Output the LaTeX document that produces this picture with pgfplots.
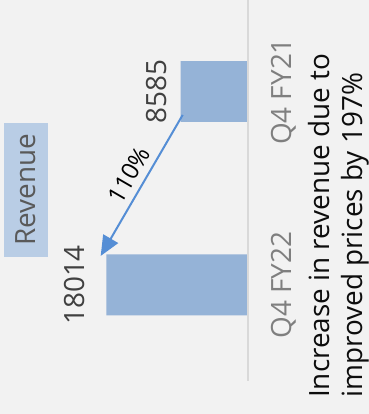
\documentclass[border=0pt]{standalone}
\usepackage{pgfplots}
\pgfplotsset{compat=1.18}
\usepackage{fontspec}
\setmainfont{Open Sans}
\usetikzlibrary{arrows.meta}
\definecolor{bg}{HTML}{F2F2F2}
\definecolor{barblue}{HTML}{95B3D7}
\definecolor{arrowblue}{HTML}{558ED5}
\definecolor{linegray}{HTML}{D9D9D9}
\definecolor{revbox}{HTML}{B9CDE5}
\definecolor{catgray}{HTML}{7F7F7F}
\definecolor{valgray}{HTML}{404040}
\definecolor{revtext}{HTML}{595959}
\begin{document}
\begin{tikzpicture}
\useasboundingbox[fill=bg] (0,0) rectangle (369bp,414bp);
\begin{axis}[
  at={(0,0)}, anchor=south west,
  scale only axis, width=248bp, height=414bp,
  xmin=0, xmax=31550, x dir=reverse,
  ymin=-0.667, ymax=1.473,
  axis line style={draw=none},
  xtick=\empty,
  ytick={0,1},
  yticklabels={Q4 FY22,Q4 FY21},
  ytick pos=right, yticklabel pos=right,
  major tick length=0pt,
  yticklabel style={rotate=90, anchor=north, inner sep=0pt, inner ysep=23bp,
    font=\fontsize{28}{33}\selectfont, text=catgray},
  clip=false,
]
\addplot[xbar, fill=barblue, draw=none, bar width=0.315] coordinates {(8585,1) (18014,0)};
\draw[linegray, line width=2.5bp] (axis cs:0,-0.496) -- (axis cs:0,1.473);
\node[rotate=90, anchor=base, inner sep=0pt, font=\fontsize{28}{33}\selectfont, text=valgray] at (axis cs:10343,1) {8585};
\node[rotate=90, anchor=base, inner sep=0pt, font=\fontsize{28}{33}\selectfont, text=valgray] at (axis cs:20738,0) {18014};
\draw[arrowblue, line width=2bp, -{Triangle[length=20bp, width=17bp]}] (axis cs:8308,0.879) -- (axis cs:18740,0.150);
\node[rotate=60, inner sep=0pt, font=\fontsize{24}{28}\selectfont, text=black] at (axis cs:15140,0.568) {110\%};
\end{axis}
\node[rotate=90, fill=revbox, minimum width=134bp, minimum height=44bp, inner sep=0pt,
  font=\fontsize{28}{33}\selectfont, text=revtext] at (26bp,224bp) {Revenue};
\node[rotate=90, anchor=south west, inner sep=0pt, align=left,
  font=\fontsize{28}{33}\selectfont, text=black!95] at (369bp,16bp)
  {Increase in revenue due to\\improved prices by 197\%};
\end{tikzpicture}
\end{document}
